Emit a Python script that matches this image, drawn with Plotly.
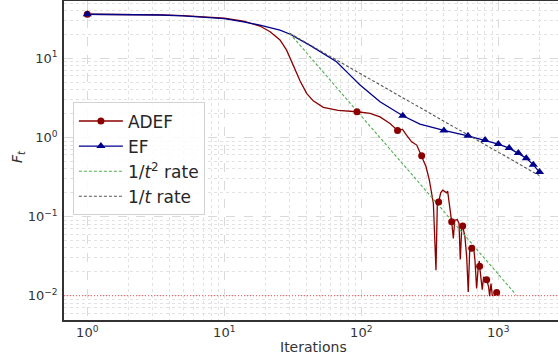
import plotly.graph_objects as go

# ---------------- data ----------------
ef_t = [1, 2, 3.4, 5, 7.9, 10, 13.8, 18.2, 25.5, 30, 42, 55, 66, 80, 98, 137,
        201, 268, 330, 401, 601, 801, 1001, 1201, 1401, 1601, 1801, 2001]
ef_F = [36.1, 35.9, 35.3, 34.5, 33.0, 31.8, 29.0, 26.3, 22.8, 20.3, 14.7, 11.1,
        9.06, 6.5, 4.59, 2.82, 1.88, 1.47, 1.33, 1.226, 1.047, 0.924, 0.823,
        0.732, 0.633, 0.547, 0.450, 0.364]
ef_marker_t = [1, 201, 401, 601, 801, 1001, 1201, 1401, 1601, 1801, 2001]

adef_t = [1, 2, 3.4, 5, 7.9, 10, 13.8, 15.4, 18.2, 21.6, 25.5, 28.5, 30.2, 32,
          35.7, 39.9, 44.6, 52.8, 67.8, 93, 116, 137, 162, 184, 200, 214, 233,
          254, 276, 297, 314, 321, 336, 351, 359, 367, 380, 393, 408, 420, 427,
          444, 457, 470, 481, 502, 517, 528, 541, 550, 571, 588, 604, 618, 640,
          658, 676, 695, 714, 727, 731, 751, 764, 782, 800, 823, 851, 865, 885,
          904, 931, 973]
adef_F = [36.1, 36.0, 35.4, 34.7, 33.3, 32.2, 29.5, 28.0, 25.6, 21.7, 17.1,
          12.7, 10.0, 8.0, 5.2, 3.6, 2.9, 2.4, 2.2, 2.11, 2.01, 1.82, 1.50,
          1.226, 1.26, 1.07, 0.88, 0.80, 0.585, 0.425, 0.288, 0.226, 0.146,
          0.0209, 0.146, 0.152, 0.199, 0.215, 0.205, 0.199, 0.209, 0.132,
          0.0855, 0.0527, 0.0898, 0.0916, 0.0815, 0.0286, 0.0705, 0.076,
          0.0552, 0.0308, 0.0111, 0.0356, 0.0397, 0.0434, 0.028, 0.0123,
          0.023, 0.0274, 0.0235, 0.0142, 0.0119, 0.0172, 0.0164, 0.0159,
          0.0128, 0.0098, 0.0142, 0.0101, 0.0100, 0.0109]
adef_marker_t = [1, 93, 184, 276, 367, 457, 550, 640, 731, 823, 973]

rate2_t = [30, 1345]       # 1/t^2 reference line end points
rate2_F = [20.7, 0.0103]
rate1_t = [30, 1990]       # 1/t reference line end points
rate1_F = [20.7, 0.33]

threshold = 0.01

x_tick_vals = [1, 10, 100, 1000]
x_tick_text = ["10<sup>0</sup>", "10<sup>1</sup>", "10<sup>2</sup>", "10<sup>3</sup>"]
y_tick_vals = [0.01, 0.1, 1, 10]
y_tick_text = ["10<sup>\u22122</sup>", "10<sup>\u22121</sup>", "10<sup>0</sup>", "10<sup>1</sup>"]
x_minor_vals = [m * 10 ** e for e in range(0, 4) for m in range(2, 10)]
y_minor_vals = [m * 10.0 ** e for e in range(-3, 2) for m in range(2, 10)]

# ---------------- styles ----------------
RED = "#8b0000"
BLUE = "#00008b"
GREEN = "rgb(80,175,80)"
GRAY = "rgb(85,85,85)"
FONT = "DejaVu Sans"

fig = go.Figure()

# main curves
fig.add_trace(go.Scatter(x=adef_t, y=adef_F, mode="lines",
                         line=dict(color=RED, width=1.3), showlegend=False,
                         hoverinfo="skip"))
fig.add_trace(go.Scatter(x=ef_t, y=ef_F, mode="lines",
                         line=dict(color=BLUE, width=1.3), showlegend=False,
                         hoverinfo="skip"))
fig.add_trace(go.Scatter(x=rate2_t, y=rate2_F, mode="lines",
                         line=dict(color=GREEN, width=1.1, dash="3px,2px"),
                         showlegend=False))
fig.add_trace(go.Scatter(x=rate1_t, y=rate1_F, mode="lines",
                         line=dict(color=GRAY, width=1.1, dash="3px,2px"),
                         showlegend=False))

# markers (subset of the curve points)
adef_mk_F = [adef_F[adef_t.index(t)] for t in adef_marker_t]
ef_mk_F = [ef_F[ef_t.index(t)] for t in ef_marker_t]
fig.add_trace(go.Scatter(x=adef_marker_t, y=adef_mk_F, mode="markers",
                         marker=dict(color=RED, size=7, symbol="circle"),
                         showlegend=False))
fig.add_trace(go.Scatter(x=ef_marker_t, y=ef_mk_F, mode="markers",
                         marker=dict(color=BLUE, size=8, symbol="triangle-up"),
                         showlegend=False))

# legend entries
fig.add_trace(go.Scatter(x=[None], y=[None], mode="lines+markers", name="ADEF",
                         line=dict(color=RED, width=1.3),
                         marker=dict(color=RED, size=7, symbol="circle")))
fig.add_trace(go.Scatter(x=[None], y=[None], mode="lines+markers", name="EF",
                         line=dict(color=BLUE, width=1.3),
                         marker=dict(color=BLUE, size=8, symbol="triangle-up")))
fig.add_trace(go.Scatter(x=[None], y=[None], mode="lines",
                         name="1/<i>t</i><sup>2</sup> rate",
                         line=dict(color=GREEN, width=1.1, dash="3px,2px")))
fig.add_trace(go.Scatter(x=[None], y=[None], mode="lines",
                         name="1/<i>t</i> rate",
                         line=dict(color=GRAY, width=1.1, dash="3px,2px")))

fig.add_hline(y=threshold, layer="above",
              line=dict(color="rgb(245,110,110)", width=1.2, dash="1px,2px"))

W, H = 558, 362
L, R, T, B = 64, 0, 1, 42

grid_major = "rgb(218,218,218)"
grid_minor = "rgb(226,226,226)"

fig.update_layout(
    width=W, height=H,
    margin=dict(l=L, r=R, t=T, b=B, autoexpand=False),
    paper_bgcolor="white", plot_bgcolor="white",
    font=dict(family=FONT, color="#333333", size=13),
    showlegend=True,
    legend=dict(x=0.018, y=0.682, xanchor="left", yanchor="top",
                bgcolor="rgba(255,255,255,0.85)", bordercolor="rgb(210,210,210)",
                borderwidth=1, font=dict(size=17, family=FONT, color="#262626"),
                itemwidth=44, tracegroupgap=0),
    xaxis=dict(type="log", range=[-0.170, 3.436],
               tickvals=x_tick_vals, ticktext=x_tick_text,
               showline=True, linecolor="#333333", linewidth=1.5, mirror=True,
               showgrid=True, gridcolor=grid_major, griddash="dash", gridwidth=1,
               minor=dict(tickmode="array", tickvals=x_minor_vals, showgrid=True,
                          gridcolor=grid_minor, griddash="dot", gridwidth=1),
               ticks="", ticklabelstandoff=0, zeroline=False,
               tickfont=dict(size=13, family=FONT, color="#333333"),
               automargin=False),
    yaxis=dict(type="log", range=[-2.309, 1.725],
               tickvals=y_tick_vals, ticktext=y_tick_text,
               showline=True, linecolor="#333333", linewidth=1.5, mirror=False,
               showgrid=True, gridcolor=grid_major, griddash="dash", gridwidth=1,
               minor=dict(tickmode="array", tickvals=y_minor_vals, showgrid=True,
                          gridcolor=grid_minor, griddash="dot", gridwidth=1),
               ticks="", ticklabelstandoff=2, zeroline=False,
               tickfont=dict(size=13, family=FONT, color="#333333"),
               automargin=False),
    annotations=[
        dict(text="Iterations", xref="paper", yref="paper",
             x=(313 - L) / (W - L - R), y=1 - (347 - T) / (H - T - B),
             xanchor="center", yanchor="middle", showarrow=False,
             font=dict(size=14, family=FONT, color="#333333")),
        dict(text="<i>F</i><sub><i>t</i></sub>", xref="paper", yref="paper",
             x=(18 - L) / (W - L - R), y=1 - (157 - T) / (H - T - B),
             xanchor="center", yanchor="middle", showarrow=False, textangle=-90,
             font=dict(size=14, family=FONT, color="#333333")),
    ],
)

fig.write_html("out.html", config={"displayModeBar": False},
               post_script="document.body.style.margin='0';document.body.style.padding='0';")
